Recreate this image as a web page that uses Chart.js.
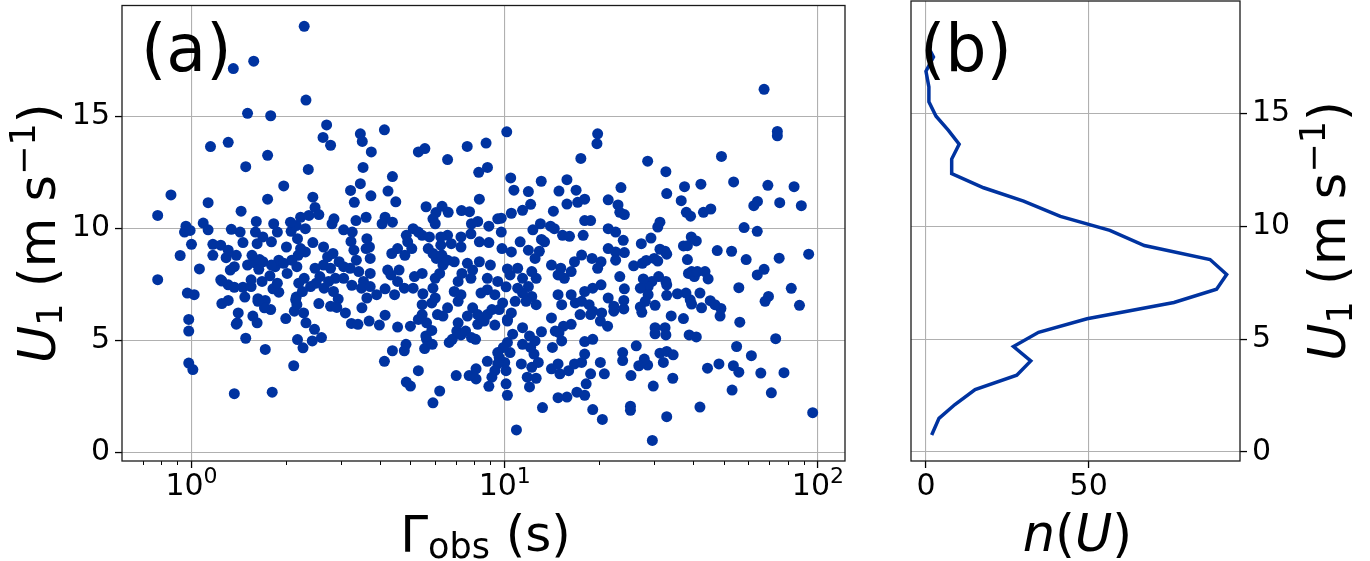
<!DOCTYPE html>
<html>
<head>
<meta charset="utf-8">
<script src="https://cdn.jsdelivr.net/npm/chart.js@4.4.1/dist/chart.umd.min.js"></script>
<style>
  html, body { margin: 0; padding: 0; background: #fff; }
  #wrap { position: relative; width: 1370px; height: 561px; }
  canvas { position: absolute; top: 0; }
  #scatterCanvas { left: 0; width: 880px; height: 561px; }
  #histCanvas { left: 880px; width: 490px; height: 561px; }
</style>
</head>
<body>
<div id="wrap">
  <canvas id="scatterCanvas" width="880" height="561"></canvas>
  <canvas id="histCanvas" width="490" height="561"></canvas>
</div>
<script>
const gammaShort = [
  2.29,1.58,1.36,2.32,1.51,1.79,2.70,2.63,2.78,1.15,
  1.31,1.75,1.49,2.36,3.46,3.51,3.53,3.46,3.22,3.31,
  1.97,2.44,1.75,0.86,0.78,1.13,1.44,2.48,2.55,0.78,
  0.92,0.96,0.95,0.99,1.0,1.09,1.13,1.06,0.97,1.02,
  0.98,0.98,0.98,1.01,1.37,1.81,2.12,1.72,1.49,2.18,
  2.27,2.43,2.60,2.47,2.32,2.0,1.79,1.62,1.57,1.40,
  1.41,1.39,2.13,2.28,1.25,1.31,1.48,1.63,1.72,1.90,
  1.82,2.16,2.55,2.78,2.94,3.10,3.24,3.40,3.69,3.50,
  3.63,3.25,1.46,1.55,1.24,1.31,1.33,1.37,1.51,1.59,
  1.64,1.69,1.78,1.85,1.90,2.02,2.17,2.20,2.29,2.40,
  2.48,2.57,2.64,2.78,2.88,2.96,3.06,3.21,3.36,3.30,
  3.23,2.64,2.44,2.31,2.19,2.23,2.01,2.18,2.08,2.16,
  2.31,2.23,2.07,2.37,1.88,1.83,1.80,1.69,1.62,1.60,
  1.61,1.46,1.43,1.34,1.17,1.24,1.17,1.29,1.39,1.31,
  1.25,1.37,1.55,1.65,1.68,1.88,1.97,2.09,2.26,2.15,
  2.17,2.50,2.65,2.74,2.72,2.83,3.06,2.84,2.91,2.81,
  2.85,3.06,3.35,3.61,3.74,3.75,3.61,3.72,3.72,3.54,
  3.42,3.70,3.63,3.49,3.72,3.26,1.71,1.63,1.80,1.56
];
const uShort = [
  19.04,17.48,17.15,15.74,15.15,15.04,14.63,14.07,13.72,13.66,
  13.85,13.27,12.76,12.64,14.23,13.89,12.73,12.0,11.70,11.17,
  11.90,11.40,11.31,11.50,10.58,11.15,10.77,10.94,10.62,7.71,
  8.79,10.10,9.84,9.91,9.29,10.24,9.94,8.19,7.11,7.04,
  5.93,5.41,3.98,3.69,2.61,2.68,3.86,4.59,5.09,5.03,
  4.66,4.97,5.12,5.49,5.78,5.97,6.37,5.78,6.08,5.78,
  6.22,5.72,6.30,6.22,6.64,6.78,6.93,6.86,6.78,7.15,
  7.30,6.93,6.64,6.52,6.84,6.22,5.75,5.71,5.86,6.45,
  6.89,7.46,7.37,7.40,7.70,7.48,8.14,8.29,8.36,8.47,
  8.17,8.51,7.88,8.29,8.58,7.99,8.29,7.55,7.77,7.40,
  8.22,7.85,8.36,8.22,7.77,8.51,8.29,8.22,8.58,9.03,
  9.42,9.17,9.37,8.95,8.80,9.10,9.17,9.54,9.87,10.13,
  9.99,10.50,10.28,10.58,9.84,10.21,9.40,9.62,9.32,9.84,
  10.31,9.37,9.84,9.96,9.29,9.25,8.80,8.69,8.80,9.03,
  7.65,7.37,7.70,8.61,7.63,7.55,8.44,8.58,7.18,6.81,
  6.59,7.55,7.33,7.63,8.73,8.88,7.77,7.18,6.47,10.21,
  10.43,9.94,10.35,10.50,11.46,13.42,9.10,8.66,7.99,7.63,
  8.07,9.17,9.54,7.33,7.40,9.84,6.45,6.74,8.36,8.80
];
const gammaMid = [
  4.13,5.30,5.56,6.57,7.59,8.72,10.15,8.26,8.81,4.38,
  4.24,4.49,8.30,10.45,10.7,13.08,11.9,12.1,11.4,10.5,
  15.8,14.9,16.9,15.8,17.5,19.8,19.7,14.3,17.1,18.0,
  21.4,5.61,6.03,6.31,6.60,7.28,7.72,5.9,6.0,4.15,
  4.06,4.38,7.83,8.2,8.9,9.5,9.75,18.0,18.8,21.4,
  14.0,14.4,13.0,12.3,13.1,15.3,16.1,17.8,11.2,9.75,
  9.8,10.5,11.9,12.9,12.5,13.4,14.1,15.1,16.3,15.5,
  14.8,16.7,17.6,19.0,20.3,21.4,19.8,20.3,19.1,18.0,
  16.8,17.6,18.6,19.1,20.4,21.4,21.3,20.2,18.8,17.4,
  16.3,15.4,14.9,14.5,14.1,15.2,14.8,16.3,12.6,12.2,
  11.9,11.4,11.0,11.7,10.8,10.5,10.2,12.6,12.2,11.4,
  11.0,10.4,10.1,11.4,13.1,14.2,14.8,14.1,15.0,16.0,
  16.7,17.6,18.0,19.1,18.0,15.2,20.2,20.8,18.8,18.2,
  18.0,17.0,15.8,14.8,19.1,20.5,13.2,10.9,12.0,11.8,
  12.6,12.2,12.8,12.4,12.1,12.5,12.0,11.4,11.3,10.1,
  10.2,10.1,10.0,10.4,10.2,9.9,9.6,9.5,9.3,9.1,
  8.9,8.8,9.5,10.6,10.2,8.1,7.7,8.1,7.0,6.2,
  5.9,5.3,5.0,4.85,4.13,4.38,4.78,4.84,5.55,5.63,
  5.87,5.6,5.85,5.63,5.45,5.45,5.3,5.0,4.55,4.15,
  3.98,6.65,6.8,7.03,7.1,7.25,7.5,7.83,8.07,8.2,
  8.6,8.8,9.3,9.6,9.85,9.1,8.4,8.8,9.3,7.9,
  8.2,7.6,7.1,7.25,6.9,7.1,7.3,7.6,7.9,8.3,
  7.8,9.0,8.8,9.5,10.2,6.57,6.35,6.1,5.85,6.0,
  5.9,6.0,6.2,6.35,6.05,5.9,6.3,6.57,6.9,7.25,
  6.75,6.25,6.57,6.25,7.25,7.8,8.3,8.9,5.7,5.45,
  5.75,5.1,4.85,4.9,5.3,4.55,4.36,4.8,5.05,4.6,
  4.33,4.23,4.55,4.78,5.1,5.15,5.45,5.48,4.15,4.45,
  3.9
];
const uMid = [
  14.41,13.42,13.57,13.08,13.67,13.82,14.32,12.51,12.73,12.32,
  11.67,11.19,11.31,12.26,11.71,12.11,11.65,11.08,10.81,10.68,
  12.18,11.67,11.71,11.09,13.13,14.23,13.79,10.77,11.17,11.31,
  11.28,10.97,10.71,10.99,10.72,10.80,10.75,10.43,10.21,10.50,
  10.21,10.28,10.21,10.31,10.10,10.43,10.46,10.35,10.35,9.99,
  10.10,9.99,10.21,9.94,9.51,9.69,9.65,9.69,9.40,9.84,
  9.10,8.95,9.03,8.98,8.66,9.40,8.36,8.22,8.07,7.77,
  7.92,8.51,8.81,8.66,8.51,9.10,8.22,7.48,7.33,7.18,
  6.67,6.74,6.59,6.30,6.22,6.89,5.63,5.86,6.15,6.15,
  5.71,5.63,5.34,5.41,6.0,6.59,7.04,7.04,6.59,6.96,
  7.40,7.11,7.33,6.74,6.74,6.22,5.93,7.77,8.07,7.77,
  8.22,7.92,7.39,5.56,5.38,4.68,3.94,3.72,3.50,3.64,
  3.94,4.01,4.38,5.04,4.94,4.97,4.01,3.50,3.50,3.05,
  2.54,2.68,2.46,2.43,1.90,1.46,1.99,0.99,2.91,3.35,
  3.30,3.79,4.01,4.38,4.68,4.97,5.19,4.82,3.94,3.05,
  2.54,3.64,4.01,4.45,4.90,4.68,4.23,3.94,3.64,3.35,
  2.94,4.06,4.45,5.27,5.86,3.27,3.42,3.72,3.42,2.73,
  2.20,3.64,2.95,3.13,4.06,4.53,4.53,4.82,4.63,5.04,
  4.82,5.19,5.44,5.78,6.15,6.59,5.93,5.63,5.59,6.12,
  5.68,4.90,5.04,5.41,5.78,5.24,5.41,5.12,5.04,5.71,
  5.86,6.15,5.68,6.37,6.67,6.37,7.11,7.26,7.04,6.45,
  6.15,6.08,6.74,7.04,7.18,7.63,7.99,8.44,8.14,8.51,
  7.77,8.36,7.77,7.63,8.19,6.45,6.08,6.15,6.67,6.89,
  7.33,7.77,7.99,8.36,8.66,8.88,8.81,8.58,8.51,9.17,
  9.32,9.25,9.69,9.62,9.62,9.76,9.40,9.37,9.10,9.69,
  9.62,9.99,9.69,9.40,9.84,9.10,8.88,8.80,9.10,8.14,
  7.92,8.14,7.63,7.33,7.33,7.85,7.99,7.08,7.30,7.04,
  7.04
];
const gammaLong = [
  67.3,74.2,74.2,49.2,28.6,32.7,53.8,42.3,37.5,32.9,
  36.6,38.0,39.2,43.1,45.5,69.2,83.9,75.5,88.5,62.4,
  64.1,58.1,64.0,93.4,75.2,59.0,53.0,47.7,67.3,64.0,
  55.9,82.2,69.5,67.8,87.3,56.3,73.3,55.0,61.3,65.7,
  77.9,71.0,53.7,55.9,53.2,48.3,44.4,42.0,96.2,32.9,
  29.6,25.2,25.2,29.8,34.4,32.1,31.3,32.9,34.5,28.6,
  27.9,26.8,26.3,25.3,23.8,23.8,30.2,30.2,32.5,32.7,
  38.8,40.9,37.2,34.0,42.5,48.7,49.0,46.9,45.3,42.0,
  39.5,39.1,37.9,35.6,32.9,32.9,32.7,31.0,29.5,28.7,
  27.7,27.1,28.7,30.2,28.1,27.1,27.4,24.0,24.0,24.1,
  23.3,22.3,22.3,25.8,27.5,28.3,30.0,30.8,31.3,32.5,
  32.9,29.3,27.3,30.8,31.3,37.2,38.3,39.4,40.9,38.3,
  38.6,40.3,39.5,43.6,44.6,41.2,24.1,23.9,22.6,22.6,
  22.6,23.5,23.0,23.3,24.1
];
const uLong = [
  16.22,14.34,14.14,13.22,13.01,12.54,12.08,11.98,11.87,11.56,
  11.24,10.72,10.55,10.72,10.87,11.93,11.87,11.15,11.02,11.02,
  11.21,10.04,9.87,8.85,8.67,8.61,8.98,9.01,8.17,7.92,
  7.35,7.32,6.96,6.74,6.56,5.81,5.07,4.72,4.31,3.53,
  3.55,2.65,3.86,3.57,2.77,3.94,3.75,2.01,1.76,1.58,
  0.52,2.05,1.87,2.95,3.30,4.01,4.42,4.50,4.35,3.89,
  4.16,3.86,4.75,3.42,4.45,4.09,5.56,5.29,5.56,5.24,
  5.24,5.15,5.97,6.09,6.45,6.08,6.42,6.59,6.77,7.11,
  6.62,6.81,7.11,7.08,7.01,7.48,7.63,7.85,7.63,7.40,
  7.74,7.33,7.04,6.56,6.74,6.49,6.25,6.40,6.78,7.30,
  7.85,6.30,6.52,8.33,8.44,8.57,8.66,8.54,9.07,8.98,
  8.85,9.57,9.32,10.06,10.28,9.22,9.23,9.62,9.44,8.61,
  7.99,7.85,8.07,8.07,7.74,8.07,8.92,9.47,9.84,8.95,
  8.58,11.83,11.05,10.72,10.62
];

// Panel (b): distribution n(U) along the speed bins
const nU = [1.75, 4.0, 8.9, 15.1, 27.9, 32.2, 26.9, 34.6, 49.5, 76.2, 89.3, 92.4, 87.3, 67.1,
            56.5, 41.3, 30.0, 17.7, 7.9, 7.9, 10.2, 6.9, 3.1, 0.9, 0.9, 0.0, 2.3, 1.2];
const uBins = [0.75, 1.49, 2.10, 2.76, 3.40, 4.03, 4.67, 5.30, 5.90, 6.62, 7.21, 7.86, 8.52, 9.14,
               9.81, 10.43, 11.11, 11.70, 12.33, 12.97, 13.63, 14.24, 14.87, 15.51, 16.17, 16.86, 17.49, 17.8];

// Ticks
const uTicks = [0, 5, 10, 15];
const gammaTicks = [1, 10, 100];
const gammaTickExp = ['0', '1', '2'];
const gammaMinorTicks = [0.7, 0.8, 0.9, 2, 3, 4, 5, 6, 7, 8, 9, 20, 30, 40, 50, 60, 70, 80, 90];
const nTicks = [0, 50];

const BLUE = '#0033a0';
const GRID = '#b0b0b0';
const FONT = '"DejaVu Sans", "Liberation Sans", sans-serif';

// draw a line of mixed-size text (sub/superscripts), centred on cx; vertical = reads upward
function drawRich(ctx, pieces, cx, cy, vertical) {
  ctx.save();
  ctx.fillStyle = '#000';
  ctx.textAlign = 'left';
  ctx.textBaseline = 'alphabetic';
  let total = 0;
  pieces.forEach(p => {
    ctx.font = (p.style || 'normal') + ' ' + p.size + 'px ' + FONT;
    p.w = ctx.measureText(p.text).width;
    total += p.w;
  });
  ctx.translate(cx, cy);
  if (vertical) ctx.rotate(-Math.PI / 2);
  let x = -total / 2;
  pieces.forEach(p => {
    ctx.font = (p.style || 'normal') + ' ' + p.size + 'px ' + FONT;
    ctx.fillText(p.text, x, p.dy || 0);
    x += p.w;
  });
  ctx.restore();
}

function uTitle() {
  return [
    { text: 'U', size: 51, style: 'italic' },
    { text: '1', size: 35, dy: 7 },
    { text: ' (m s', size: 51 },
    { text: '\u22121', size: 35, dy: -20 },
    { text: ')', size: 51 }
  ];
}

// frame, labels, titles and custom tick labels drawn on top
const decorPlugin = {
  id: 'decor',
  afterDraw(chart, args, opts) {
    const ctx = chart.ctx;
    const a = chart.chartArea;
    const xs = chart.scales.x;

    if (opts.minorTicks) {
      ctx.save();
      ctx.strokeStyle = '#000';
      ctx.lineWidth = 1;
      opts.minorTicks.forEach(v => {
        const px = Math.round(xs.getPixelForValue(v)) + 0.5;
        ctx.beginPath();
        ctx.moveTo(px, a.bottom);
        ctx.lineTo(px, a.bottom + 4);
        ctx.stroke();
      });
      ctx.restore();
    }

    // x tick labels
    ctx.save();
    ctx.fillStyle = '#000';
    ctx.textBaseline = 'alphabetic';
    opts.xLabels.forEach(l => {
      const px = xs.getPixelForValue(l.value);
      ctx.font = '30px ' + FONT;
      const wb = ctx.measureText(l.base).width;
      let we = 0;
      if (l.exp) {
        ctx.font = '22px ' + FONT;
        we = ctx.measureText(l.exp).width;
      }
      const x0 = px - (wb + we) / 2;
      ctx.font = '30px ' + FONT;
      ctx.textAlign = 'left';
      ctx.fillText(l.base, x0, 495);
      if (l.exp) {
        ctx.font = '22px ' + FONT;
        ctx.fillText(l.exp, x0 + wb, 483);
      }
    });
    ctx.restore();

    // axes frame
    ctx.save();
    ctx.strokeStyle = '#1a1a1a';
    ctx.lineWidth = 1.3;
    ctx.strokeRect(a.left, a.top, a.right - a.left, a.bottom - a.top);
    ctx.restore();

    // panel letter
    ctx.save();
    ctx.fillStyle = '#000';
    ctx.font = '65px ' + FONT;
    ctx.textAlign = 'left';
    ctx.textBaseline = 'alphabetic';
    ctx.fillText(opts.letter, opts.letterX, 71);
    ctx.restore();

    drawRich(ctx, opts.xTitle, (a.left + a.right) / 2 + 2, 551, false);
    drawRich(ctx, uTitle(), opts.yTitleX, (a.top + a.bottom) / 2, true);
  }
};

const gridOpts = { color: GRID, lineWidth: 1.1, tickColor: '#000', tickLength: 7, tickWidth: 1.3 };
const tickFont = { family: FONT, size: 30 };

// fixed axis sizes, and no extra room reserved for edge labels
function fixHeight(s) {
  s.height = 100;
  s.paddingLeft = 0; s.paddingRight = 0; s.paddingTop = 0; s.paddingBottom = 0;
}
function fixWidth(w) {
  return s => {
    s.width = w;
    s.paddingLeft = 0; s.paddingRight = 0; s.paddingTop = 0; s.paddingBottom = 0;
  };
}

const scatterPoints = gammaShort.concat(gammaMid, gammaLong).map((g, i) => ({
  x: g, y: uShort.concat(uMid, uLong)[i]
}));

new Chart(document.getElementById('scatterCanvas'), {
  type: 'scatter',
  data: {
    datasets: [{
      data: scatterPoints,
      backgroundColor: BLUE,
      borderWidth: 0,
      pointRadius: 5.5,
      pointHoverRadius: 5.5
    }]
  },
  options: {
    responsive: false,
    animation: false,
    devicePixelRatio: 1,
    layout: { padding: { left: 0, top: 1, right: 35, bottom: 0 } },
    plugins: {
      legend: { display: false },
      tooltip: { enabled: false },
      decor: {
        letter: '(a)', letterX: 141, yTitleX: 55,
        minorTicks: gammaMinorTicks,
        xLabels: gammaTicks.map((v, i) => ({ value: v, base: '10', exp: gammaTickExp[i] })),
        xTitle: [
          { text: '\u0393', size: 50 },
          { text: 'obs', size: 35, dy: 7 },
          { text: ' (s)', size: 50 }
        ]
      }
    },
    scales: {
      x: {
        type: 'logarithmic',
        min: 0.61,
        max: 122,
        afterBuildTicks: s => { s.ticks = gammaTicks.map(v => ({ value: v, major: true })); },
        afterFit: fixHeight,
        ticks: { display: false },
        grid: gridOpts,
        border: { display: false }
      },
      y: {
        min: -0.40,
        max: 19.97,
        afterBuildTicks: s => { s.ticks = uTicks.map(v => ({ value: v })); },
        afterFit: fixWidth(122),
        ticks: { font: tickFont, color: '#000', padding: 5 },
        grid: gridOpts,
        border: { display: false }
      }
    }
  },
  plugins: [decorPlugin]
});

new Chart(document.getElementById('histCanvas'), {
  type: 'scatter',
  data: {
    datasets: [{
      data: nU.map((n, i) => ({ x: n, y: uBins[i] })),
      showLine: true,
      borderColor: BLUE,
      borderWidth: 3.5,
      pointRadius: 0,
      tension: 0
    }]
  },
  options: {
    responsive: false,
    animation: false,
    devicePixelRatio: 1,
    layout: { padding: { left: 31, top: 1, right: 0, bottom: 0 } },
    plugins: {
      legend: { display: false },
      tooltip: { enabled: false },
      decor: {
        letter: '(b)', letterX: 40, yTitleX: 465,
        xLabels: nTicks.map(v => ({ value: v, base: String(v) })),
        xTitle: [
          { text: 'n', size: 51, style: 'italic' },
          { text: '(', size: 51 },
          { text: 'U', size: 51, style: 'italic' },
          { text: ')', size: 51 }
        ]
      }
    },
    scales: {
      x: {
        type: 'linear',
        min: -4.6,
        max: 96.5,
        afterBuildTicks: s => { s.ticks = nTicks.map(v => ({ value: v })); },
        afterFit: fixHeight,
        ticks: { display: false },
        grid: gridOpts,
        border: { display: false }
      },
      y: {
        position: 'right',
        min: -0.40,
        max: 19.97,
        afterBuildTicks: s => { s.ticks = uTicks.map(v => ({ value: v })); },
        afterFit: fixWidth(130),
        ticks: { font: tickFont, color: '#000', padding: 5 },
        grid: gridOpts,
        border: { display: false }
      }
    }
  },
  plugins: [decorPlugin]
});
</script>
</body>
</html>
